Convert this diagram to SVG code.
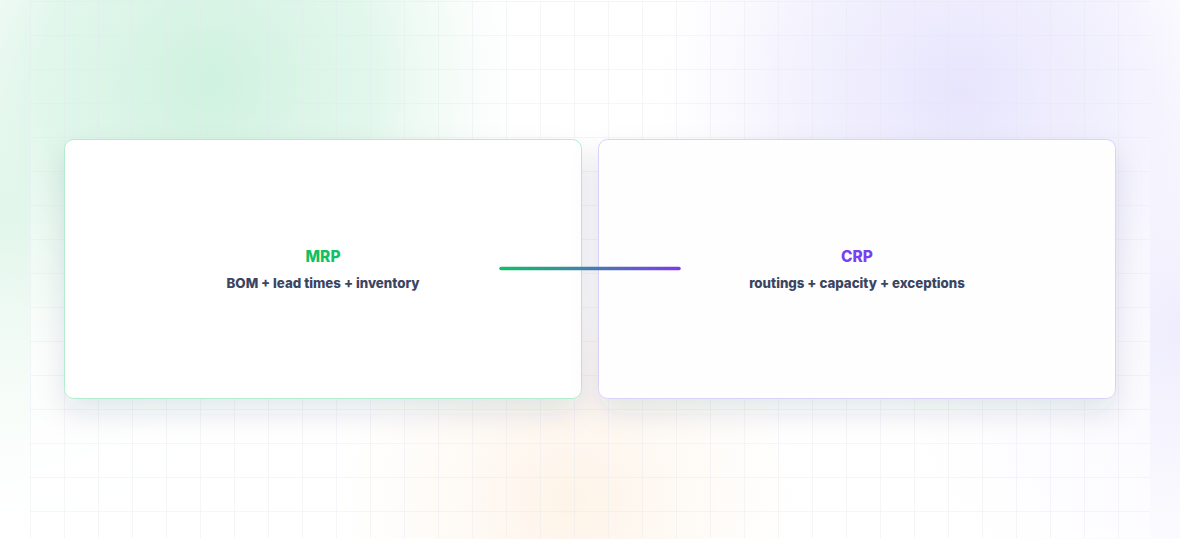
<svg xmlns="http://www.w3.org/2000/svg" width="1180" height="539" viewBox="0 0 1180 539">
<defs>
  <pattern id="grid" x="30" y="1" width="34" height="34" patternUnits="userSpaceOnUse">
    <path d="M0 0H34M0 0V34" fill="none" stroke="#e4e7ee" stroke-width="1" opacity="0.7"/>
  </pattern>
  <radialGradient id="gGreen" cx="210" cy="80" r="310" gradientUnits="userSpaceOnUse">
    <stop offset="0" stop-color="#cdf1de" stop-opacity="0.95"/>
    <stop offset="0.55" stop-color="#d4f3e3" stop-opacity="0.65"/>
    <stop offset="1" stop-color="#e8f8ef" stop-opacity="0"/>
  </radialGradient>
  <radialGradient id="gPurple" cx="960" cy="90" r="300" gradientUnits="userSpaceOnUse">
    <stop offset="0" stop-color="#e6e3fd" stop-opacity="0.95"/>
    <stop offset="0.55" stop-color="#ebe9fd" stop-opacity="0.6"/>
    <stop offset="1" stop-color="#f2f0fe" stop-opacity="0"/>
  </radialGradient>
  <radialGradient id="gOrange" cx="570" cy="500" r="230" gradientUnits="userSpaceOnUse">
    <stop offset="0" stop-color="#fdecd9" stop-opacity="0.6"/>
    <stop offset="1" stop-color="#fdf1e4" stop-opacity="0"/>
  </radialGradient>
  <radialGradient id="gLeft" cx="0" cy="220" r="320" gradientUnits="userSpaceOnUse">
    <stop offset="0" stop-color="#e1f6ea" stop-opacity="0.95"/>
    <stop offset="1" stop-color="#f3fbf6" stop-opacity="0"/>
  </radialGradient>
  <radialGradient id="gRight" cx="1180" cy="330" r="320" gradientUnits="userSpaceOnUse">
    <stop offset="0" stop-color="#eeecfd" stop-opacity="0.95"/>
    <stop offset="1" stop-color="#f6f5fe" stop-opacity="0"/>
  </radialGradient>
  <linearGradient id="conn" x1="500" y1="0" x2="680" y2="0" gradientUnits="userSpaceOnUse">
    <stop offset="0" stop-color="#10c06a"/>
    <stop offset="1" stop-color="#7c3aed"/>
  </linearGradient>
  <filter id="shadow" x="-20%" y="-30%" width="140%" height="170%">
    <feDropShadow dx="0" dy="14" stdDeviation="14" flood-color="#1e2a44" flood-opacity="0.11"/>
  </filter>
  <style>
    .card { stroke-width: 1; }
    .title { font-family: Inter, "Liberation Sans", sans-serif; font-weight: 800; font-size: 15.5px; text-anchor: middle; }
    .sub { font-family: Inter, "Liberation Sans", sans-serif; font-weight: 800; font-size: 13.3px; fill: #3b4561; text-anchor: middle; }
  </style>
</defs>
<rect width="1180" height="539" fill="#ffffff"/>
<rect width="1180" height="539" fill="url(#gLeft)"/>
<rect width="1180" height="539" fill="url(#gRight)"/>
<rect x="30" y="1" width="1120" height="537" fill="#ffffff" opacity="0.6"/>
<rect width="1180" height="539" fill="url(#gGreen)"/>
<rect width="1180" height="539" fill="url(#gPurple)"/>
<rect width="1180" height="539" fill="url(#gOrange)"/>
<rect x="30" y="1" width="1120" height="537" fill="url(#grid)"/>

<g id="node-mrp">
  <rect class="card" x="64.5" y="139.5" width="517" height="259" rx="9" fill="#fefffe" stroke="#b4ecd0" filter="url(#shadow)"/>
  <text class="title" x="323" y="262" fill="#13bf66">MRP</text>
  <text class="sub" x="323" y="288">BOM + lead times + inventory</text>
</g>
<g id="node-crp">
  <rect class="card" x="598.5" y="139.5" width="517" height="259" rx="9" fill="#fefeff" stroke="#d9d3fb" filter="url(#shadow)"/>
  <text class="title" x="857" y="262" fill="#7b3ff2">CRP</text>
  <text class="sub" x="857" y="288">routings + capacity + exceptions</text>
</g>
<g id="connectors">
  <line x1="501" y1="268.5" x2="679" y2="268.5" stroke="url(#conn)" stroke-width="3.5" stroke-linecap="round"/>
</g>
</svg>
